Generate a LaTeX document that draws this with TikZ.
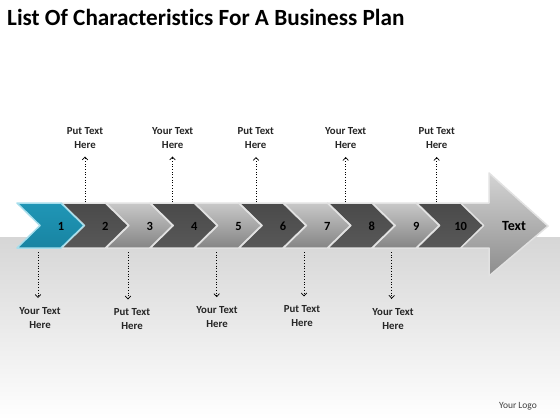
\documentclass[tikz,border=0pt]{standalone}
\usepackage{fontspec}
\setmainfont{Carlito}[Ligatures=CommonOff]
\usetikzlibrary{arrows.meta}
\definecolor{bandtop}{HTML}{D6D6D6}
\definecolor{dkTop}{HTML}{4A4A4A}
\definecolor{dkMid}{HTML}{B2B2B2}
\definecolor{dkBot}{HTML}{585858}
\definecolor{ltTop}{HTML}{C8C8C8}
\definecolor{ltMid}{HTML}{DCDCDC}
\definecolor{ltBot}{HTML}{858585}
\definecolor{tlTop}{HTML}{2096B6}
\definecolor{tlMid}{HTML}{5CCDE6}
\definecolor{tlBot}{HTML}{1884A2}
\definecolor{tlEdge}{HTML}{A6DEEC}
\definecolor{chEdge}{HTML}{E2E2E2}
\definecolor{bgTop}{HTML}{D4D4D4}
\definecolor{bgMid}{HTML}{B8B8B8}
\definecolor{bgBot}{HTML}{8C8C8C}
\begin{document}
\begin{tikzpicture}[x=1pt,y=-1pt,
  edge/.style={draw=chEdge,line width=1.5pt,line join=round},
  darkchev/.style={top color=dkTop,middle color=dkMid,bottom color=dkBot,edge},
  lightchev/.style={top color=ltTop,middle color=ltMid,bottom color=ltBot,edge},
  tealchev/.style={top color=tlTop,middle color=tlMid,bottom color=tlBot,edge,draw=tlEdge},
  bigarrow/.style={top color=bgTop,middle color=bgMid,bottom color=bgBot,edge},
  numlab/.style={font=\bfseries\fontsize{12.5}{14}\selectfont,text=black,inner sep=0pt},
  txtlab/.style={font=\bfseries\fontsize{10.8}{14}\selectfont,text=black!85,align=center,inner sep=0pt,anchor=north},
  ptr/.style={dotted,line width=0.7pt,-{Straight Barb[length=3pt,width=5.5pt,line width=0.7pt]}}
]
\useasboundingbox (0,0) rectangle (560,420);
\fill[white] (0,0) rectangle (560,420);
\shade[top color=bandtop,bottom color=white] (0,237) rectangle (560,420);

\node[anchor=base west,font=\bfseries\fontsize{23.2}{26}\selectfont,inner sep=0pt] (title) at (7,26) {List Of Characteristics For A Business Plan};

% big arrow
\path[bigarrow] (460,203) -- (489,203) -- (489,173) -- (548,226) -- (489,276) -- (489,248) -- (460,248) -- (483,225.5) -- cycle;
\node[font=\bfseries\fontsize{14}{16}\selectfont,inner sep=0pt] (endtext) at (514,226) {Text};

% chevrons
\foreach \i/\s in {10/darkchev,9/lightchev,8/darkchev,7/lightchev,6/darkchev,5/lightchev,4/darkchev,3/lightchev,2/darkchev,1/tealchev}{
  \pgfmathsetmacro\t{84+44.4*(\i-1)}
  \path[\s] ({\t-67},203) -- ({\t-23},203) -- (\t,225.5) -- ({\t-23},248) -- ({\t-67},248) -- ({\t-44},225.5) -- cycle;
  \node[numlab] (n\i) at ({\t-23},226) {\i};
}

% top labels
\node[txtlab] (t1) at (85,127) {Put Text\\Here};
\node[txtlab] (t2) at (172.7,127) {Your Text\\Here};
\node[txtlab] (t3) at (255.7,127.5) {Put Text\\Here};
\node[txtlab] (t4) at (345.7,127.5) {Your Text\\Here};
\node[txtlab] (t5) at (436.7,127.5) {Put Text\\Here};
\coordinate (u1) at (85,202);
\coordinate (u2) at (172.5,202);
\coordinate (u3) at (256,202);
\coordinate (u4) at (345.7,202);
\coordinate (u5) at (436.7,202);
\foreach \k in {1,...,5}{
  \draw[ptr,shorten >=8pt] (u\k) -- (u\k |- t\k.south);
}

% bottom labels
\node[txtlab] (b1) at (40,307) {Your Text\\Here};
\node[txtlab] (b2) at (132,308.5) {Put Text\\Here};
\node[txtlab] (b3) at (217,306.2) {Your Text\\Here};
\node[txtlab] (b4) at (302,305.5) {Put Text\\Here};
\node[txtlab] (b5) at (393,307.8) {Your Text\\Here};
\coordinate (d1) at (38,252);
\coordinate (d2) at (128,252);
\coordinate (d3) at (216.7,252);
\coordinate (d4) at (304,252);
\coordinate (d5) at (391.7,252);
\foreach \k in {1,...,5}{
  \draw[ptr,shorten >=9pt] (d\k) -- (d\k |- b\k.north);
}

\node[font=\fontsize{9.5}{10}\selectfont,text=black!75,inner sep=0pt] (logo) at (518,406) {Your Logo};
\end{tikzpicture}
\end{document}
